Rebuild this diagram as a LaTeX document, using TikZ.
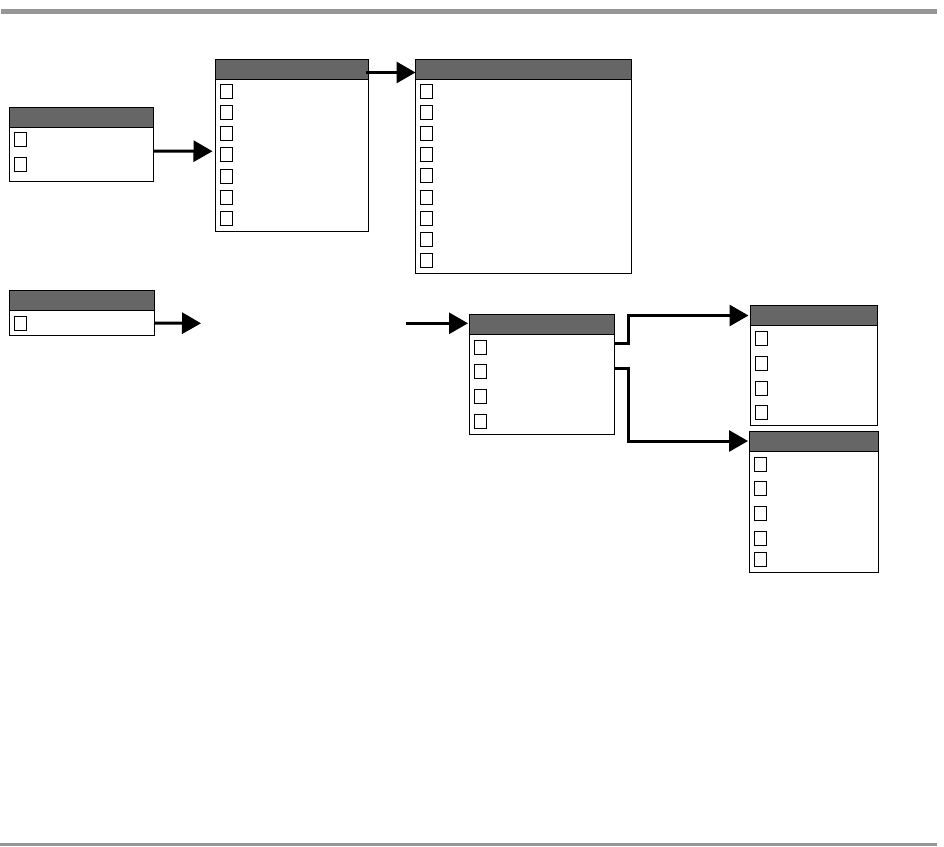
\documentclass[tikz,border=0pt]{standalone}
\usetikzlibrary{arrows.meta,calc,positioning}
\definecolor{hdrgray}{RGB}{102,102,102}
\definecolor{rulegray}{RGB}{150,150,150}

\begin{document}
\begin{tikzpicture}[x=1pt, y=-1pt, >={Triangle[length=19pt, width=21pt]},
  panel/.style={draw, line width=1pt, fill=white, inner sep=0pt, outer sep=0pt, anchor=north west},
  hd/.style={draw, line width=1pt, fill=hdrgray, inner sep=0pt, outer sep=0pt, minimum height=20pt, anchor=north west},
  chk/.style={draw, line width=1pt, fill=white, inner sep=0pt, minimum width=12pt, minimum height=14pt},
  arr/.style={->, line width=3pt}]
  \useasboundingbox (0,0) rectangle (944,846);
  % rules top and bottom
  \fill[rulegray] (1,9) rectangle (937,14);
  \fill[rulegray] (0,843) rectangle (937,846);

  % first row
  \node[panel, minimum width=144pt, minimum height=74pt] (start) at (9.5,107.5) {};
  \node[hd, minimum width=144pt] (start-hd) at (start.north west) {};
  \foreach \i/\y in {1/32.3, 2/57.1}
    \node[chk] (start-\i) at ($(start.north west)+(10.8,\y)$) {};

  \node[panel, minimum width=152.5pt, minimum height=171.5pt] (list) at (215.5,59.5) {};
  \node[hd, minimum width=152.5pt] (list-hd) at (list.north west) {};
  \foreach \i in {1,...,7}
    \node[chk] (list-\i) at ($(list.north west)+(10.8,{32+(\i-1)*21.15})$) {};

  \node[panel, minimum width=215.5pt, minimum height=213.5pt] (detail) at (415.5,59.5) {};
  \node[hd, minimum width=215.5pt] (detail-hd) at (detail.north west) {};
  \foreach \i in {1,...,9}
    \node[chk] (detail-\i) at ($(detail.north west)+(10.8,{32+(\i-1)*21.1})$) {};

  % second row
  \node[panel, minimum width=144.5pt, minimum height=44.5pt] (single) at (9.5,290.5) {};
  \node[hd, minimum width=144.5pt] (single-hd) at (single.north west) {};
  \node[chk] (single-1) at ($(single.north west)+(10.8,32.5)$) {};

  \node[panel, minimum width=145pt, minimum height=119.5pt] (hub) at (469.5,314.5) {};
  \node[hd, minimum width=145pt] (hub-hd) at (hub.north west) {};
  \foreach \i in {1,...,4}
    \node[chk] (hub-\i) at ($(hub.north west)+(10.8,{32.5+(\i-1)*24.75})$) {};

  \node[panel, minimum width=127pt, minimum height=119.5pt] (upper) at (750.5,305.5) {};
  \node[hd, minimum width=127pt] (upper-hd) at (upper.north west) {};
  \foreach \i in {1,...,4}
    \node[chk] (upper-\i) at ($(upper.north west)+(10.8,{33+(\i-1)*24.8})$) {};

  \node[panel, minimum width=128.5pt, minimum height=141.5pt] (lower) at (749.5,431) {};
  \node[hd, minimum width=128.5pt] (lower-hd) at (lower.north west) {};
  \foreach \i/\y in {1/33.2, 2/57.5, 3/82.5, 4/107.5, 5/128.5}
    \node[chk] (lower-\i) at ($(lower.north west)+(10.8,\y)$) {};

  % free ends
  \coordinate (gapL) at (201,323.3);
  \coordinate (gapR) at (406,323.3);

  % connectors
  \draw[arr, shorten >=3pt] ($(start.east)+(0,6.5)$) -- ($(list.west)+(0,6)$);
  \draw[arr] ($(list-hd.east)+(-2,3)$) -- ($(detail-hd.west)+(0,3)$);
  \draw[arr] (single-1 -| single.east) -- (gapL);
  \draw[arr, shorten >=1.5pt] (gapR) -- (gapR -| hub.west);
  \draw[arr, shorten >=2pt] ($(hub-1 -| hub.east)+(0,-4)$) -- ++(14,0) |- (upper-hd.west);
  \draw[arr, shorten >=1.5pt] ($(hub-2 -| hub.east)+(0,-3.5)$) -- ++(14,0) |- (lower-hd.west);
\end{tikzpicture}
\end{document}
